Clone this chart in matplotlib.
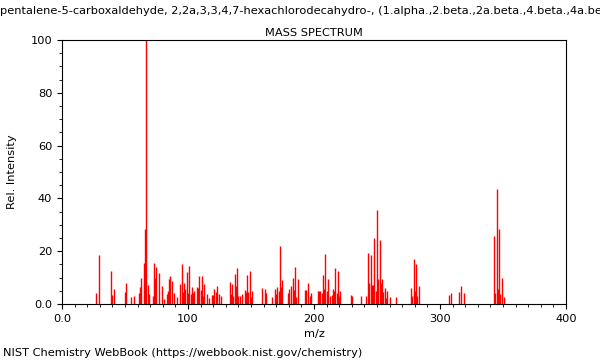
import matplotlib
matplotlib.use("Agg")
import matplotlib.pyplot as plt
from matplotlib.ticker import MultipleLocator, FuncFormatter

# peaks
mz = [27, 29, 39, 40, 41, 50, 51, 55, 57, 61, 62, 63, 65, 66, 67, 68, 69,
      72, 73, 74, 75, 77, 79, 81, 83, 84, 85, 86, 87, 89, 91, 94, 95, 96,
      97, 98, 99, 100, 101, 102, 103, 104, 105, 107, 108, 109, 110, 111,
      112, 113, 115, 117, 119, 120, 121, 122, 123, 125, 126, 133, 134, 135,
      136, 137, 138, 139, 140, 141, 143, 145, 146, 147, 148, 149, 150, 151,
      159, 161, 162, 167, 169, 170, 171, 172, 173, 174, 175, 179, 180, 182,
      183, 184, 185, 186, 187, 193, 194, 195, 197, 198, 203, 204, 205, 206,
      207, 208, 209, 210, 211, 213, 214, 215, 216, 217, 218, 219, 220, 221,
      229, 230, 237, 241, 243, 244, 245, 246, 247, 248, 249, 250, 251, 252,
      253, 254, 255, 256, 257, 258, 260, 265, 277, 278, 279, 280, 281, 282,
      283, 307, 309, 315, 317, 319, 343, 344, 345, 346, 347, 348, 349, 351]
intensity = [4.3, 18.4, 12.5, 3.4, 5.7, 4.5, 7.8, 2.5, 3.0, 4.0, 6.5, 9.8,
             15.5, 28.3, 100, 7.3, 3.6, 3.0, 15.5, 9.7, 14.1, 11.9, 6.8, 2.0,
             3.6, 4.8, 9.5, 10.6, 8.8, 4.0, 2.5, 7.7, 15.0, 4.5, 7.9, 5.7,
             12.1, 4.0, 14.5, 3.6, 6.5, 4.3, 4.8, 6.4, 6.0, 10.6, 5.3, 10.6,
             3.0, 7.6, 3.8, 2.3, 3.4, 3.3, 5.6, 4.5, 6.8, 3.6, 3.0, 8.2, 3.6,
             7.4, 3.0, 11.5, 6.8, 13.6, 3.0, 3.0, 3.6, 5.4, 4.4, 11.0, 4.4,
             12.5, 2.5, 5.0, 6.2, 5.6, 4.0, 2.8, 5.8, 3.8, 6.4, 5.0, 22.0,
             6.4, 9.1, 4.3, 5.8, 6.8, 9.8, 5.4, 14.0, 2.5, 9.3, 5.3, 5.2, 8.0,
             3.2, 4.2, 5.0, 4.8, 5.0, 4.0, 11.0, 5.6, 19.0, 5.0, 9.4, 3.2,
             3.5, 5.5, 5.0, 13.8, 4.3, 12.5, 3.2, 4.8, 3.5, 3.2, 3.2, 3.0,
             19.4, 8.0, 18.6, 7.3, 7.3, 25.0, 4.8, 35.6, 9.3, 24.2, 7.8, 9.6,
             4.4, 6.2, 2.2, 5.1, 2.5, 2.5, 6.1, 3.0, 17.0, 5.1, 15.3, 3.2,
             6.8, 3.4, 4.2, 4.5, 6.7, 4.2, 25.9, 4.2, 43.7, 5.6, 28.4, 3.6,
             9.8, 2.6]

name_prefix = "1,3,4-Metheno-1H-cyclobuta[cd]"
name_rest = ("pentalene-5-carboxaldehyde, 2,2a,3,3,4,7-hexachlorodecahydro-, "
             "(1.alpha.,2.beta.,2a.beta.,4.beta.,4a.beta.,5.alpha.,5a.beta.,6.beta.)-")

fs = 8.2

fig = plt.figure(figsize=(6, 3.6), dpi=100)
ax = fig.add_axes([0.1033, 0.1556, 0.84, 0.7333])

ax.vlines(mz, 0, intensity, colors="red", linewidth=1.0)

ax.set_xlim(0, 400)
ax.set_ylim(0, 100)
ax.xaxis.set_major_locator(MultipleLocator(100))
ax.xaxis.set_minor_locator(MultipleLocator(10))
ax.yaxis.set_major_locator(MultipleLocator(20))
ax.yaxis.set_minor_locator(MultipleLocator(5))
fmt = FuncFormatter(lambda v, p: "0.0" if v == 0 else "%d" % v)
ax.xaxis.set_major_formatter(fmt)
ax.yaxis.set_major_formatter(fmt)
ax.tick_params(labelsize=fs, length=3.5)
ax.tick_params(which="minor", length=2)

ax.set_xlabel("m/z", fontsize=fs)
ax.set_ylabel("Rel. Intensity", fontsize=fs)
ax.yaxis.set_label_coords(-0.09, 0.5)
ax.set_title("MASS SPECTRUM", fontsize=fs, pad=3)

# long compound name runs off both edges, like the reference
r = fig.canvas.get_renderer()
tmp = fig.text(0, 0, name_prefix, fontsize=fs)
w = tmp.get_window_extent(r).width
tmp.remove()
fig.text(-w / fig.bbox.width, 0.97, name_prefix + name_rest,
         ha="left", va="center", fontsize=fs)

fig.text(0.005, 0.02, "NIST Chemistry WebBook (https://webbook.nist.gov/chemistry)",
         ha="left", va="center", fontsize=fs)

fig.savefig("out.png", dpi=100)
